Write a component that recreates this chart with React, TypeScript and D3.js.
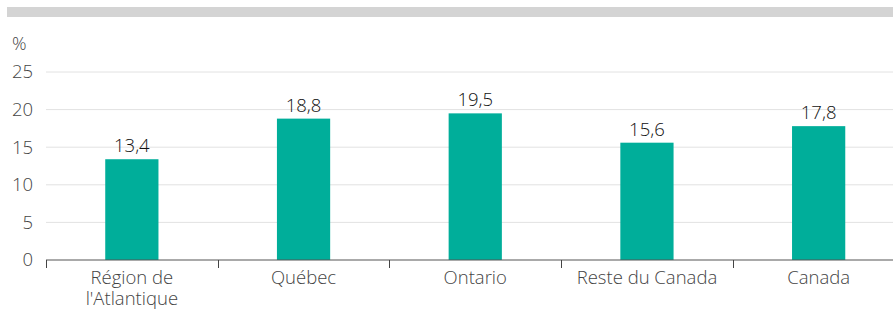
import React from "react";
import * as d3 from "d3";

const categories = ["Région de\nl'Atlantique", "Québec", "Ontario", "Reste du Canada", "Canada"];
const values = [13.4, 18.8, 19.5, 15.6, 17.8];
const yTicks = [0, 5, 10, 15, 20, 25];

const W = 893;
const H = 311;
const margin = { left: 46, top: 72, bottom: 51 };
const plotRight = 904.5;

export default function App() {
  const x = d3
    .scaleBand<string>()
    .domain(categories)
    .range([margin.left, plotRight])
    .paddingInner(0.69)
    .paddingOuter(0.345);
  const y = d3.scaleLinear().domain([0, 25]).range([H - margin.bottom, margin.top]);
  const step = x.step();
  const font = "'Open Sans', sans-serif";
  const fmt = (v: number) => v.toFixed(1).replace(".", ",");

  return (
    <svg
      width={W}
      height={H}
      style={{ position: "absolute", left: 0, top: 0, fontFamily: font }}
    >
      <rect x={7} y={7} width={W - 7} height={10} fill="#d4d4d4" />
      <text x={12} y={50} fontSize={18} fontWeight={300} fill="#444">%</text>
      {yTicks.map((t) => (
        <g key={t}>
          {t > 0 && (
            <line x1={margin.left} x2={W} y1={y(t)} y2={y(t)} stroke="#e2e2e2" strokeWidth={1} />
          )}
          <text x={33} y={y(t)} dy="0.35em" textAnchor="end" fontSize={18.5} fontWeight={300} fill="#444">
            {t}
          </text>
        </g>
      ))}
      {categories.map((c, i) => {
        const bx = x(c)!;
        const v = values[i];
        const cx = bx + x.bandwidth() / 2;
        return (
          <g key={c}>
            <rect x={bx} y={y(v)} width={x.bandwidth()} height={y(0) - y(v)} fill="#00ae9a" />
            <text x={cx} y={y(v) - 7} textAnchor="middle" fontSize={18.5} fontWeight={300} fill="#111">
              {fmt(v)}
            </text>
            <text x={cx} y={284} textAnchor="middle" fontSize={18.5} fontWeight={300} fill="#444">
              {c.split("\n").map((line, j) => (
                <tspan key={j} x={cx} dy={j === 0 ? 0 : 21}>
                  {line}
                </tspan>
              ))}
            </text>
          </g>
        );
      })}
      <line x1={margin.left} x2={W} y1={y(0)} y2={y(0)} stroke="#555" strokeWidth={1} />
      {d3.range(categories.length + 1).map((i) => {
        const tx = Math.round(margin.left + i * step) + 0.5;
        return <line key={i} x1={tx} x2={tx} y1={y(0)} y2={y(0) + 8} stroke="#444" strokeWidth={1} />;
      })}
    </svg>
  );
}
